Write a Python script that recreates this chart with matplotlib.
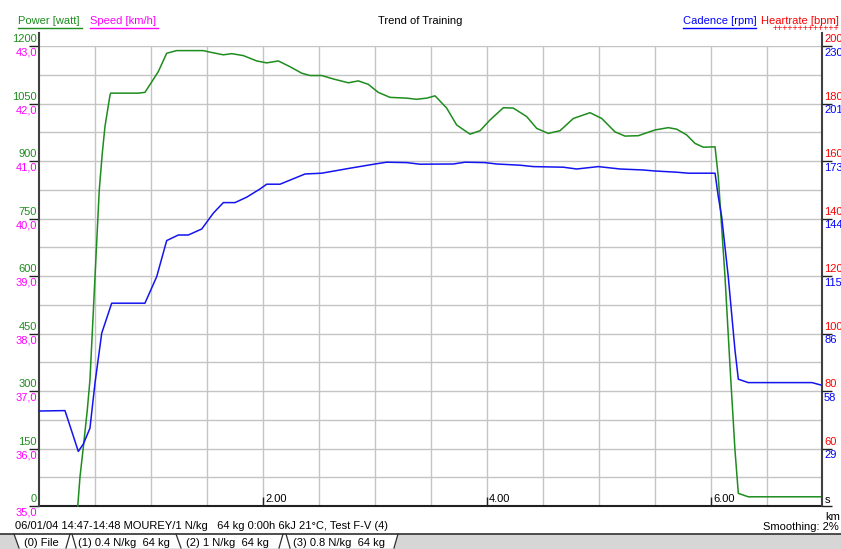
import matplotlib
matplotlib.use("Agg")
import matplotlib.pyplot as plt
from matplotlib.lines import Line2D
from matplotlib.patches import Polygon, Rectangle
import matplotlib.transforms as mtransforms

plt.rcParams['font.family'] = ['Liberation Sans', 'DejaVu Sans']

# ---------------- data ----------------
power_km = [0.346, 0.366, 0.396, 0.431, 0.455, 0.538, 0.565, 0.589, 0.634, 0.640,
            0.887, 0.946, 1.065, 1.140, 1.229, 1.467, 1.527, 1.646, 1.721, 1.824,
            1.944, 2.033, 2.137, 2.241, 2.346, 2.420, 2.524, 2.628, 2.762, 2.851,
            2.940, 3.029, 3.134, 3.283, 3.372, 3.462, 3.536, 3.640, 3.729, 3.848,
            3.938, 4.027, 4.146, 4.235, 4.354, 4.444, 4.547, 4.652, 4.771, 4.920,
            5.024, 5.143, 5.232, 5.351, 5.500, 5.619, 5.694, 5.783, 5.857, 5.931,
            6.036, 6.065, 6.125, 6.170, 6.214, 6.244, 6.333, 6.982]
power_w = [0, 76, 154, 250, 329, 824, 920, 990, 1072, 1077,
           1077, 1079, 1133, 1181, 1188, 1188, 1184, 1177, 1180, 1175,
           1161, 1156, 1161, 1146, 1129, 1123, 1123, 1114, 1104, 1109,
           1100, 1079, 1066, 1064, 1061, 1064, 1070, 1038, 994, 970,
           979, 1007, 1039, 1038, 1016, 985, 972, 979, 1011, 1026,
           1011, 976, 965, 966, 981, 987, 983, 968, 946, 936,
           937, 859, 598, 363, 146, 33, 24, 24]

cad_km = [0.003, 0.232, 0.351, 0.396, 0.455, 0.500, 0.560, 0.649, 0.946, 1.051,
          1.140, 1.244, 1.333, 1.453, 1.556, 1.646, 1.750, 1.854, 1.973, 2.033,
          2.152, 2.375, 2.524, 2.777, 3.000, 3.104, 3.283, 3.402, 3.699, 3.804,
          3.982, 4.087, 4.295, 4.414, 4.681, 4.801, 4.994, 5.188, 5.396, 5.500,
          5.694, 5.797, 6.036, 6.065, 6.095, 6.154, 6.214, 6.244, 6.333, 6.902,
          6.980]
cad_rpm = [47.5, 47.7, 27.3, 31.0, 38.9, 61.5, 86.4, 101.4, 101.4, 114.7,
           132.7, 135.5, 135.5, 138.5, 146.4, 151.7, 151.7, 154.4, 158.5, 160.9,
           160.9, 166.0, 166.4, 168.9, 171.0, 171.9, 171.7, 170.9, 171.0, 171.9,
           171.7, 171.0, 170.4, 169.7, 169.4, 168.5, 169.7, 168.5, 168.0, 167.5,
           166.9, 166.4, 166.4, 154.7, 144.7, 114.7, 78.0, 63.4, 61.7, 61.7,
           60.5]

power_ticks = [0, 150, 300, 450, 600, 750, 900, 1050, 1200]
speed_labels = ['35,0', '36,0', '37,0', '38,0', '39,0', '40,0', '41,0', '42,0', '43,0']
heart_labels = ['', '60', '80', '100', '120', '140', '160', '180', '200']
cad_labels = ['', '29', '58', '86', '115', '144', '173', '201', '230']
x_ticks = [2, 4, 6]
x_labels = ['2.00', '4.00', '6.00']

# ---------------- figure ----------------
W, H = 841, 549
fig = plt.figure(figsize=(W / 100, H / 100), dpi=100)
fig.patch.set_facecolor('white')

L, R, B, T = 39, 822, 506, 46  # pixel box of the 0..1200 region
ax = fig.add_axes([L / W, 1 - B / H, (R - L) / W, (B - T) / H])
ax.set_xlim(0, (R - L) / 112.0)
ax.set_ylim(0, 1200)
ax.set_facecolor('white')

grid_c = '#c4c4c4'
for i in range(1, 14):
    ax.axvline(i * 0.5, color=grid_c, lw=1.0, zorder=0)
for i in range(1, 17):
    ax.axhline(i * 75, color=grid_c, lw=1.0, zorder=0)

for s in ['top', 'left', 'right']:
    ax.spines[s].set_visible(False)
ax.spines['bottom'].set_color('#202020')
ax.spines['bottom'].set_linewidth(1.5)

ext = (B - 33) / (B - T)
for xa in (0, 1):
    ax.add_line(Line2D([xa, xa], [0, ext], transform=ax.transAxes, color='#404040',
                       lw=1.5, clip_on=False, zorder=5))

ax.set_yticks(power_ticks)
ax.tick_params(axis='y', direction='out', length=7.5, width=1.0, color='#202020',
               labelleft=False, left=True)
ax.set_xticks(x_ticks)
ax.tick_params(axis='x', direction='in', length=6.5, width=1.0, color='#202020',
               labelbottom=False)

ax.plot(power_km, power_w, color='#1e8c1e', lw=1.1, zorder=3, clip_on=False)

ax2 = ax.twinx()
ax2.set_ylim(0, 230)
for s in ax2.spines.values():
    s.set_visible(False)
ax2.set_yticks([v * 230 / 1200 for v in power_ticks])
ax2.tick_params(axis='y', direction='out', length=7.5, width=1.0, color='#202020',
                labelright=False, right=True)
ax2.plot(cad_km, cad_rpm, color='#1414f0', lw=1.1, zorder=3, clip_on=False)

fs = 8
green, magenta, blue, red = '#1e8c1e', '#ff00ff', '#0000ff', '#ff0000'
bt = mtransforms.blended_transform_factory(ax.transAxes, ax.transData)
off_l = -2 / (R - L)
off_r = 2 / (R - L)
for v, sl, hl, cl in zip(power_ticks, speed_labels, heart_labels, cad_labels):
    ax.text(off_l, v + 4, str(v), transform=bt, ha='right', va='bottom',
            color=green, fontsize=fs)
    ax.text(off_l, v - 4, sl, transform=bt, ha='right', va='top',
            color=magenta, fontsize=fs)
    if hl:
        ax.text(1 + off_r, v + 4, hl, transform=bt, ha='left', va='bottom',
                color=red, fontsize=fs)
    if cl:
        ax.text(1 + off_r, v - 4, cl, transform=bt, ha='left', va='top',
                color=blue, fontsize=fs)

bx = mtransforms.blended_transform_factory(ax.transData, ax.transData)
for xv, lab in zip(x_ticks, x_labels):
    ax.text(xv + 0.02, 6, lab, transform=bx, ha='left', va='bottom',
            color='black', fontsize=fs)


def fx(x):
    return x / W


def fy(y):
    return 1 - y / H


fig.text(fx(825), fy(503), 's', ha='left', va='baseline', fontsize=fs)
fig.text(fx(825), fy(520), 'km', ha='left', va='baseline', fontsize=fs)

# header
fig.text(fx(18), fy(24), 'Power [watt]', color=green, fontsize=fs, va='baseline')
fig.add_artist(Line2D([fx(18), fx(82)], [fy(27.5), fy(27.5)], color=green, lw=1))
fig.text(fx(90), fy(24), 'Speed [km/h]', color=magenta, fontsize=fs, va='baseline')
fig.add_artist(Line2D([fx(90), fx(158)], [fy(27.5), fy(27.5)], color=magenta, lw=1))
fig.text(fx(420.5), fy(24), 'Trend of Training', color='black', fontsize=fs,
         va='baseline', ha='center')
fig.text(fx(683), fy(24), 'Cadence [rpm]', color=blue, fontsize=fs, va='baseline')
fig.add_artist(Line2D([fx(683), fx(756)], [fy(27.5), fy(27.5)], color=blue, lw=1))
fig.text(fx(839), fy(24), 'Heartrate [bpm]', color=red, fontsize=fs, va='baseline',
         ha='right')
fig.text(fx(839), fy(31.5), '+' * 13, color=red, fontsize=6.5, va='baseline',
         ha='right')

# footer
fig.text(fx(15), fy(529), '06/01/04 14:47-14:48 MOUREY/1 N/kg   64 kg 0:00h 6kJ 21°C, Test F-V (4)',
         color='black', fontsize=fs, va='baseline')
fig.text(fx(839), fy(530), 'Smoothing: 2%', color='black', fontsize=fs, va='baseline',
         ha='right')

fig.add_artist(Rectangle((0, 0), 1, fy(534), transform=fig.transFigure,
                         facecolor='#d6d6d6', edgecolor='none', zorder=0))
fig.add_artist(Polygon([(fx(14), fy(534)), (fx(398), fy(534)), (fx(394), fy(549)),
                        (fx(19), fy(549))], closed=True, transform=fig.transFigure,
                       facecolor='white', edgecolor='none', zorder=1))
fig.add_artist(Line2D([0, 1], [fy(533.5), fy(533.5)], color='#303030', lw=1.2, zorder=2))
for x0, x1 in [(14, 19), (70, 66), (72, 76), (176, 181), (283, 279), (286, 290), (398, 394)]:
    fig.add_artist(Line2D([fx(x0), fx(x1)], [fy(534), fy(548)], color='#303030', lw=0.9, zorder=2))
fig.add_artist(Line2D([fx(19), fx(394)], [fy(548.5), fy(548.5)], color='#303030', lw=0.9, zorder=2))
tabs = [(24, '(0) File'), (78, '(1) 0.4 N/kg  64 kg'), (186, '(2) 1 N/kg  64 kg'),
        (293, '(3) 0.8 N/kg  64 kg')]
for x0, t in tabs:
    fig.text(fx(x0), fy(546), t, color='black', fontsize=fs, va='baseline', zorder=3)

fig.savefig('out.png', dpi=100, facecolor='white')
